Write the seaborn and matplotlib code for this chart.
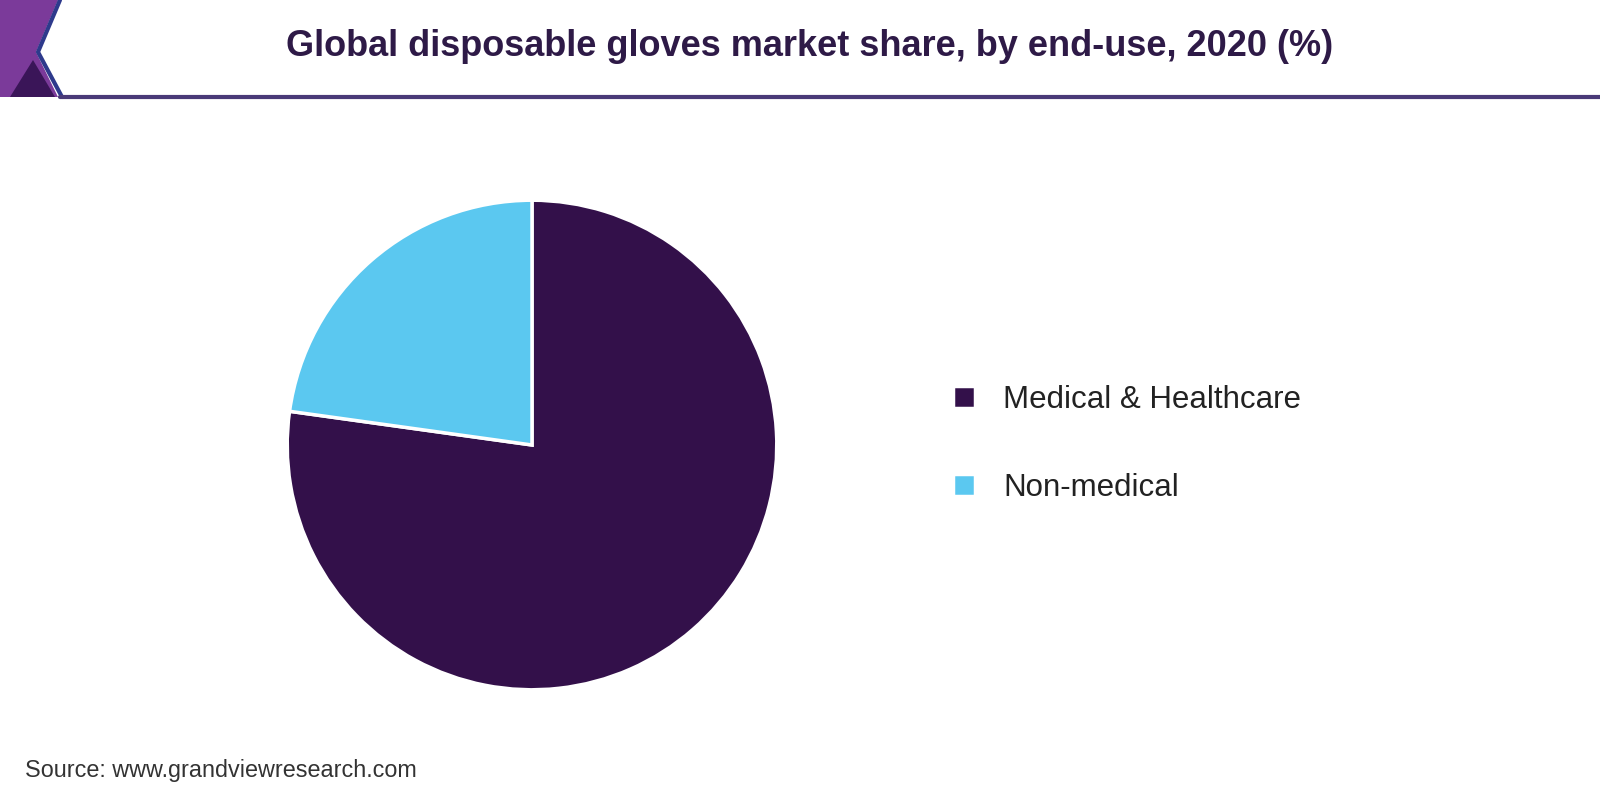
import matplotlib.pyplot as plt
import seaborn as sns
from matplotlib.patches import Polygon
from matplotlib.lines import Line2D

sns.set_theme(style="white")
plt.rcParams['font.family'] = ['Liberation Sans', 'DejaVu Sans']

# data
segments = ["Medical & Healthcare", "Non-medical"]
shares = [77.2, 22.8]
colors = ["#33104A", "#5BC8F0"]

title = "Global disposable gloves market share, by end-use, 2020 (%)"
source = "Source: www.grandviewresearch.com"

W, H = 1600, 800
fig = plt.figure(figsize=(16, 8), dpi=100)
fig.patch.set_facecolor("white")

# header decoration (pixel coords -> figure fraction)
def px(pts):
    return [(x / W, 1 - y / H) for x, y in pts]

fig.patches.append(Polygon(px([(0, 0), (58, 0), (36, 52), (58, 97), (0, 97)]),
                           closed=True, transform=fig.transFigure,
                           facecolor="#7B3A9A", edgecolor="none"))
fig.patches.append(Polygon(px([(10, 97), (33, 60), (55, 97)]),
                           closed=True, transform=fig.transFigure,
                           facecolor="#3A1558", edgecolor="none"))
fig.lines.append(Line2D([60 / W, 38 / W, 62 / W], [1, 1 - 52 / H, 1 - 97 / H],
                        transform=fig.transFigure, color="#2E3A8C", lw=3))
fig.lines.append(Line2D([60 / W, 1], [1 - 97 / H, 1 - 97 / H],
                        transform=fig.transFigure, color="#4A3A78", lw=3))

fig.text(810 / W, 1 - 47 / H, title, ha="center", va="center",
         fontsize=26, fontweight="bold", color="#2E1A47")

# pie
cx, cy, r = 532, 445, 246
ax = fig.add_axes([(cx - r) / W, (H - cy - r) / H, 2 * r / W, 2 * r / H])
wedges, _ = ax.pie(shares, colors=colors, startangle=90, counterclock=False,
                   wedgeprops=dict(edgecolor="white", linewidth=2.5))
ax.set_xlim(-1.005, 1.005)
ax.set_ylim(-1.005, 1.005)
ax.set_aspect("equal")

leg = fig.legend(wedges, segments, loc="center left",
                 bbox_to_anchor=(925 / W, 1 - 444 / H), frameon=False,
                 fontsize=22.5, handlelength=0.7, handleheight=0.7,
                 handletextpad=0.9, labelspacing=1.85)
for t in leg.get_texts():
    t.set_color("#222222")

fig.text(25 / W, 1 - 771 / H, source, ha="left", va="center",
         fontsize=16.8, color="#333333")

fig.savefig("out.png", dpi=100, facecolor="white")
